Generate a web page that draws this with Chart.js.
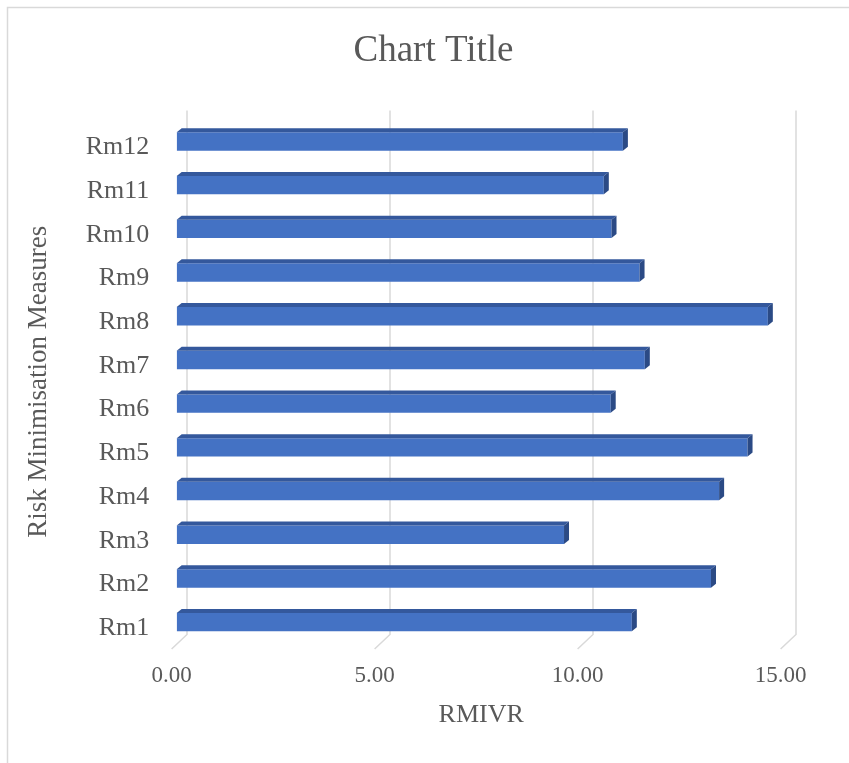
<!DOCTYPE html>
<html>
<head>
<meta charset="utf-8">
<title>RMIVR by measure</title>
<script src="https://cdn.jsdelivr.net/npm/chart.js@4.4.1/dist/chart.umd.min.js"></script>
<style>
  body { margin: 0; background: #ffffff; }
  canvas { display: block; }
</style>
</head>
<body>
<canvas id="myChart" width="849" height="763"></canvas>
<script>
'use strict';

// chart data
const measureNames = ['Rm1', 'Rm2', 'Rm3', 'Rm4', 'Rm5', 'Rm6',
  'Rm7', 'Rm8', 'Rm9', 'Rm10', 'Rm11', 'Rm12'];
const rmivrValues = [11.21, 13.16, 9.54, 13.36, 14.06, 10.69,
  11.53, 14.56, 11.40, 10.71, 10.52, 10.99];
const xTickValues = [0, 5, 10, 15];

const serif = '"Liberation Serif", "Times New Roman", serif';
const textGrey = '#595959';

// depth of the bars and of the back wall / floor
const barDx = 5;
const barDy = 4;
const wallDx = 10.3;
const wallTop = 9;
const wallBottom = 9.5;
const floorDx = 5.1;
const floorDy = 5;

// gridlines on the back wall plus the slanted floor lines, and the outer frame
const depthPlugin = {
  id: 'depth3d',
  beforeDraw(chart) {
    const ctx = chart.ctx;
    ctx.save();
    ctx.strokeStyle = '#d9d9d9';
    ctx.lineWidth = 1.5;
    ctx.strokeRect(7.5, 7.5, chart.width + 20, chart.height + 20);
    ctx.restore();
  },
  beforeDatasetsDraw(chart) {
    const ctx = chart.ctx;
    const x = chart.scales.x;
    const area = chart.chartArea;
    ctx.save();
    ctx.strokeStyle = '#d9d9d9';
    ctx.lineWidth = 1.5;
    for (let i = 0; i < xTickValues.length; i++) {
      const px = x.getPixelForValue(xTickValues[i]);
      ctx.beginPath();
      ctx.moveTo(px + wallDx, area.top - wallTop);
      ctx.lineTo(px + wallDx, area.bottom - wallBottom);
      ctx.lineTo(px - floorDx, area.bottom + floorDy);
      ctx.stroke();
    }
    ctx.restore();
  },
  afterDatasetsDraw(chart) {
    const ctx = chart.ctx;
    const bars = chart.getDatasetMeta(0).data;
    ctx.save();
    for (let i = 0; i < bars.length; i++) {
      const b = bars[i].getProps(['x', 'y', 'base', 'height'], true);
      const top = b.y - b.height / 2;
      const bottom = b.y + b.height / 2;
      // top face
      ctx.fillStyle = '#34589c';
      ctx.beginPath();
      ctx.moveTo(b.base, top);
      ctx.lineTo(b.base + barDx, top - barDy);
      ctx.lineTo(b.x + barDx, top - barDy);
      ctx.lineTo(b.x, top);
      ctx.closePath();
      ctx.fill();
      // end face
      ctx.fillStyle = '#2b4a85';
      ctx.beginPath();
      ctx.moveTo(b.x, top);
      ctx.lineTo(b.x + barDx, top - barDy);
      ctx.lineTo(b.x + barDx, bottom - barDy);
      ctx.lineTo(b.x, bottom);
      ctx.closePath();
      ctx.fill();
    }
    ctx.restore();
  }
};

const ctx = document.getElementById('myChart').getContext('2d');
const chart = new Chart(ctx, {
  type: 'bar',
  data: {
    labels: measureNames,
    datasets: [{
      label: 'RMIVR',
      data: rmivrValues,
      backgroundColor: '#4472c4',
      borderWidth: 0,
      categoryPercentage: 1,
      barPercentage: 0.42
    }]
  },
  options: {
    indexAxis: 'y',
    responsive: false,
    animation: false,
    layout: {
      padding: { left: 18, right: 0, top: 0, bottom: 0 }
    },
    plugins: {
      legend: { display: false },
      tooltip: { enabled: false },
      title: {
        display: true,
        text: 'Chart Title',
        color: textGrey,
        font: { family: serif, size: 37, weight: 'normal' },
        padding: { top: 28.8, bottom: 46.4 }
      }
    },
    scales: {
      x: {
        type: 'linear',
        min: 0,
        max: 15,
        afterBuildTicks(scale) {
          scale.ticks = xTickValues.map(v => ({ value: v }));
        },
        afterFit(scale) {
          scale.height = 119;
        },
        grid: { display: false, drawTicks: false },
        border: { display: false },
        ticks: {
          color: textGrey,
          font: { family: serif, size: 23 },
          padding: 18.4,
          labelOffset: -5,
          callback: v => v.toFixed(2)
        },
        title: {
          display: true,
          text: 'RMIVR',
          color: textGrey,
          font: { family: serif, size: 26 },
          padding: { top: 0, bottom: 32.2 }
        }
      },
      y: {
        reverse: true,
        afterFit(scale) {
          scale.width = 158.7;
        },
        grid: { display: false, drawTicks: false },
        border: { display: false },
        ticks: {
          color: textGrey,
          font: { family: serif, size: 26 },
          padding: 27.4,
          labelOffset: 6
        },
        title: {
          display: true,
          text: 'Risk Minimisation Measures',
          color: textGrey,
          font: { family: serif, size: 27 },
          padding: { top: 4.5, bottom: 0 }
        }
      },
      // empty strip on the right so the plot stops short of the edge
      yRight: {
        type: 'category',
        position: 'right',
        afterFit(scale) {
          scale.width = 63.3;
        },
        grid: { display: false, drawTicks: false },
        border: { display: false },
        ticks: { display: false }
      }
    }
  },
  plugins: [depthPlugin]
});
</script>
</body>
</html>
